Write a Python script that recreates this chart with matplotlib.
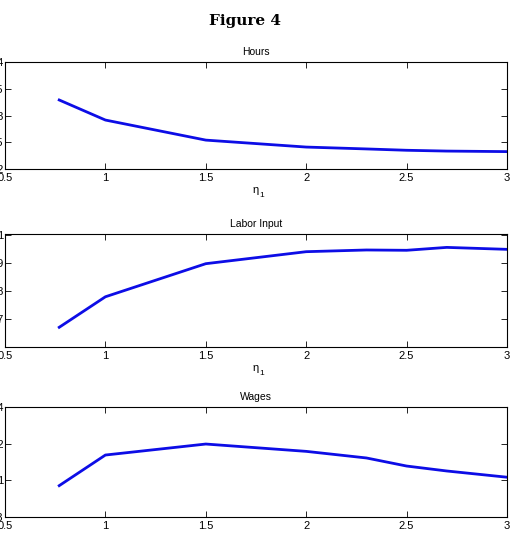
import matplotlib
matplotlib.use("Agg")
import matplotlib.pyplot as plt

eta = [0.77, 1.0, 1.5, 2.0, 2.3, 2.5, 2.7, 3.0]
hours = [0.329, 0.2915, 0.254, 0.241, 0.2375, 0.235, 0.2335, 0.2325]
labor = [0.6706, 0.780, 0.8986, 0.9416, 0.9477, 0.9466, 0.957, 0.950]
wages = [0.9971, 1.0138, 1.0198, 1.0158, 1.0122, 1.0078, 1.0051, 1.0017]

titles = ["Hours", "Labor Input", "Wages"]
series = [hours, labor, wages]
ylims = [(0.2, 0.4), (0.6, 1.005), (0.98, 1.04)]
yticks = [[0.2, 0.25, 0.3, 0.35, 0.4], [0.7, 0.8, 0.9, 1.0], [0.98, 1.0, 1.02, 1.04]]
ytlabels = [["0.2", "0.25", "0.3", "0.35", "0.4"], ["0.7", "0.8", "0.9", "1"], ["0.98", "1", "1.02", "1.04"]]
xticks = [0.5, 1, 1.5, 2, 2.5, 3]
xtlabels = ["0.5", "1", "1.5", "2", "2.5", "3"]

W, H = 513, 537
plt.rcParams['font.family'] = ['Liberation Sans', 'DejaVu Sans']
fig = plt.figure(figsize=(W / 100, H / 100), dpi=100)

fig.text(245 / W, 1 - 21 / H, "Figure 4", ha="center", va="center",
         fontsize=11, fontweight="bold", family="DejaVu Serif")

# axes boxes in pixels: (left, top, right, bottom)
boxes = [(5, 62, 507, 169), (5, 234, 507, 347), (5, 407, 507, 517)]
for i, (l, t, r, b) in enumerate(boxes):
    ax = fig.add_axes([l / W, 1 - b / H, (r - l) / W, (b - t) / H])
    ax.plot(eta, series[i], color=(0.05, 0.05, 0.9), lw=2)
    ax.set_xlim(0.5, 3)
    ax.set_ylim(*ylims[i])
    ax.set_xticks(xticks)
    ax.set_xticklabels(xtlabels)
    ax.set_yticks(yticks[i])
    ax.set_yticklabels(ytlabels[i])
    ax.tick_params(direction="in", top=True, right=True, labelsize=8, length=4, width=0.6)
    ax.tick_params(axis="x", pad=3)
    ax.tick_params(axis="y", pad=1)
    for s in ax.spines.values():
        s.set_linewidth(0.8)
    ax.set_title(titles[i], fontsize=7.5, pad=5)
    if i < 2:
        ax.set_xlabel("η", fontsize=8, labelpad=1)
        ax.annotate("1", xy=(1, 0), xycoords=ax.xaxis.label, xytext=(0.3, -1),
                    textcoords="offset points", fontsize=6, ha="left", va="center")

fig.savefig("out.png", dpi=100)
